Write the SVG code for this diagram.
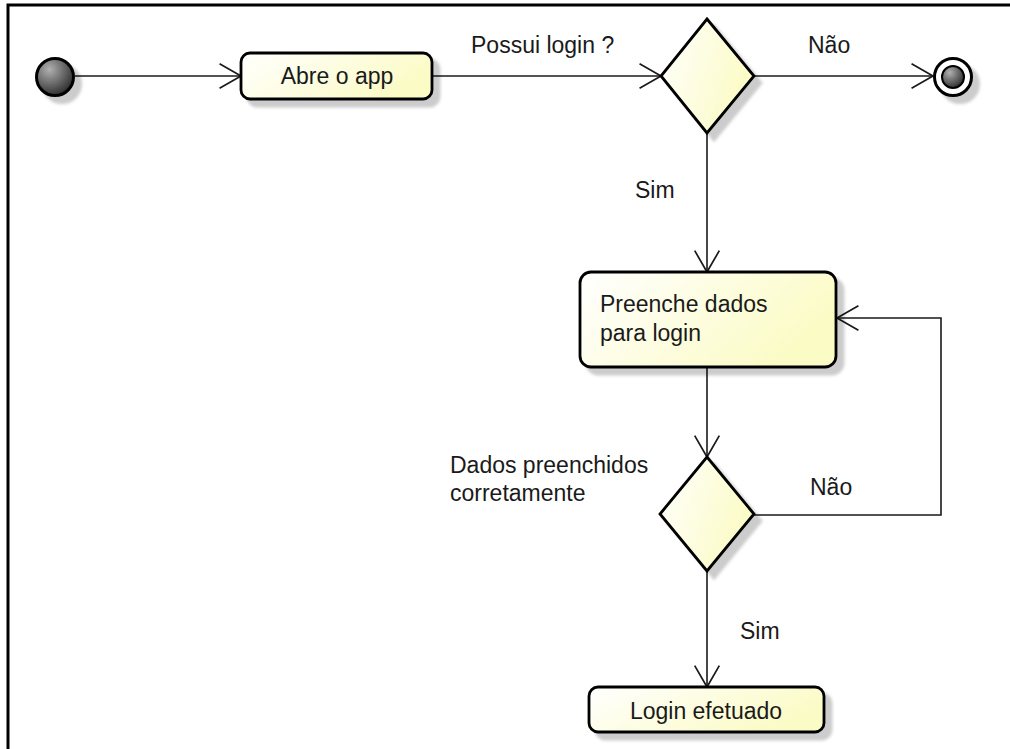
<svg xmlns="http://www.w3.org/2000/svg" width="1010" height="749" viewBox="0 0 1010 749">
  <style>
    .node { stroke: #000; stroke-width: 2.8; fill: url(#nodeFill); filter: url(#shadow); }
    .txt { font-family: "Liberation Sans", Arial, sans-serif; font-size: 23px; fill: #1a1a1a; }
    .mid { text-anchor: middle; }
    .conn { fill: none; stroke: #1a1a1a; stroke-width: 1.6; }
  </style>
  <defs>
    <linearGradient id="nodeFill" x1="0" y1="0" x2="1" y2="0.4">
      <stop offset="0" stop-color="#ffffff"/>
      <stop offset="1" stop-color="#fbfbc6"/>
    </linearGradient>
    <radialGradient id="ballFill" cx="0.35" cy="0.3" r="0.75">
      <stop offset="0" stop-color="#b0b0b0"/>
      <stop offset="1" stop-color="#2a2a2a"/>
    </radialGradient>
    <filter id="shadow" x="-20%" y="-20%" width="150%" height="150%">
      <feOffset in="SourceAlpha" dx="7" dy="7" result="off"/>
      <feGaussianBlur in="off" stdDeviation="1.8" result="blur"/>
      <feFlood flood-color="#000" flood-opacity="0.2"/>
      <feComposite in2="blur" operator="in" result="sh"/>
      <feMerge>
        <feMergeNode in="sh"/>
        <feMergeNode in="SourceGraphic"/>
      </feMerge>
    </filter>
    <marker id="open" markerUnits="userSpaceOnUse" markerWidth="30" markerHeight="30" viewBox="-22 -14 24 28" refX="0" refY="0" orient="auto">
      <path d="M-20,-11.5 L0,0 L-20,11.5" fill="none" stroke="#1a1a1a" stroke-width="1.6"/>
    </marker>
  </defs>

  <rect x="0" y="0" width="1010" height="749" fill="#fff"/>
  <path d="M8,749 V5 H1010" fill="none" stroke="#000" stroke-width="3"/>

  <g id="connectors">
    <path class="conn" d="M75,76 H241" marker-end="url(#open)"/>
    <path class="conn" d="M432,76 H661" marker-end="url(#open)"/>
    <path class="conn" d="M754,76 H933" marker-end="url(#open)"/>
    <path class="conn" d="M707,133 V272" marker-end="url(#open)"/>
    <path class="conn" d="M707,367 V457" marker-end="url(#open)"/>
    <path class="conn" d="M754,515 H941 V318 H837" marker-end="url(#open)"/>
    <path class="conn" d="M707,571 V687" marker-end="url(#open)"/>
    <text class="txt" x="471" y="53">Possui login ?</text>
    <text class="txt" x="808" y="53">Não</text>
    <text class="txt" x="635" y="198">Sim</text>
    <text class="txt" x="810" y="495">Não</text>
    <text class="txt" x="740" y="639">Sim</text>
  </g>

  <g id="start">
    <circle cx="55" cy="77" r="18.5" fill="url(#ballFill)" stroke="#000" stroke-width="3" filter="url(#shadow)"/>
  </g>

  <g id="abre-app">
    <rect class="node" x="241" y="53" width="191" height="46" rx="9"/>
    <text class="txt mid" x="337" y="84">Abre o app</text>
  </g>

  <g id="decision-login">
    <polygon class="node" points="707,19 754,76 707,133 661,76"/>
  </g>

  <g id="end">
    <circle cx="953" cy="77" r="18.5" fill="#fff" stroke="#000" stroke-width="3" filter="url(#shadow)"/>
    <circle cx="953" cy="77" r="11" fill="url(#ballFill)" stroke="#000" stroke-width="2"/>
  </g>

  <g id="preenche">
    <rect class="node" x="580" y="272" width="256" height="95" rx="11"/>
    <text class="txt" x="600" y="312">Preenche dados</text>
    <text class="txt" x="600" y="341">para login</text>
  </g>

  <g id="decision-dados">
    <polygon class="node" points="707,457 754,514 707,571 660,514"/>
    <text class="txt" x="450" y="473">Dados preenchidos</text>
    <text class="txt" x="450" y="501">corretamente</text>
  </g>

  <g id="login-efetuado">
    <rect class="node" x="589" y="687" width="235" height="45" rx="9"/>
    <text class="txt mid" x="706" y="719">Login efetuado</text>
  </g>
</svg>
